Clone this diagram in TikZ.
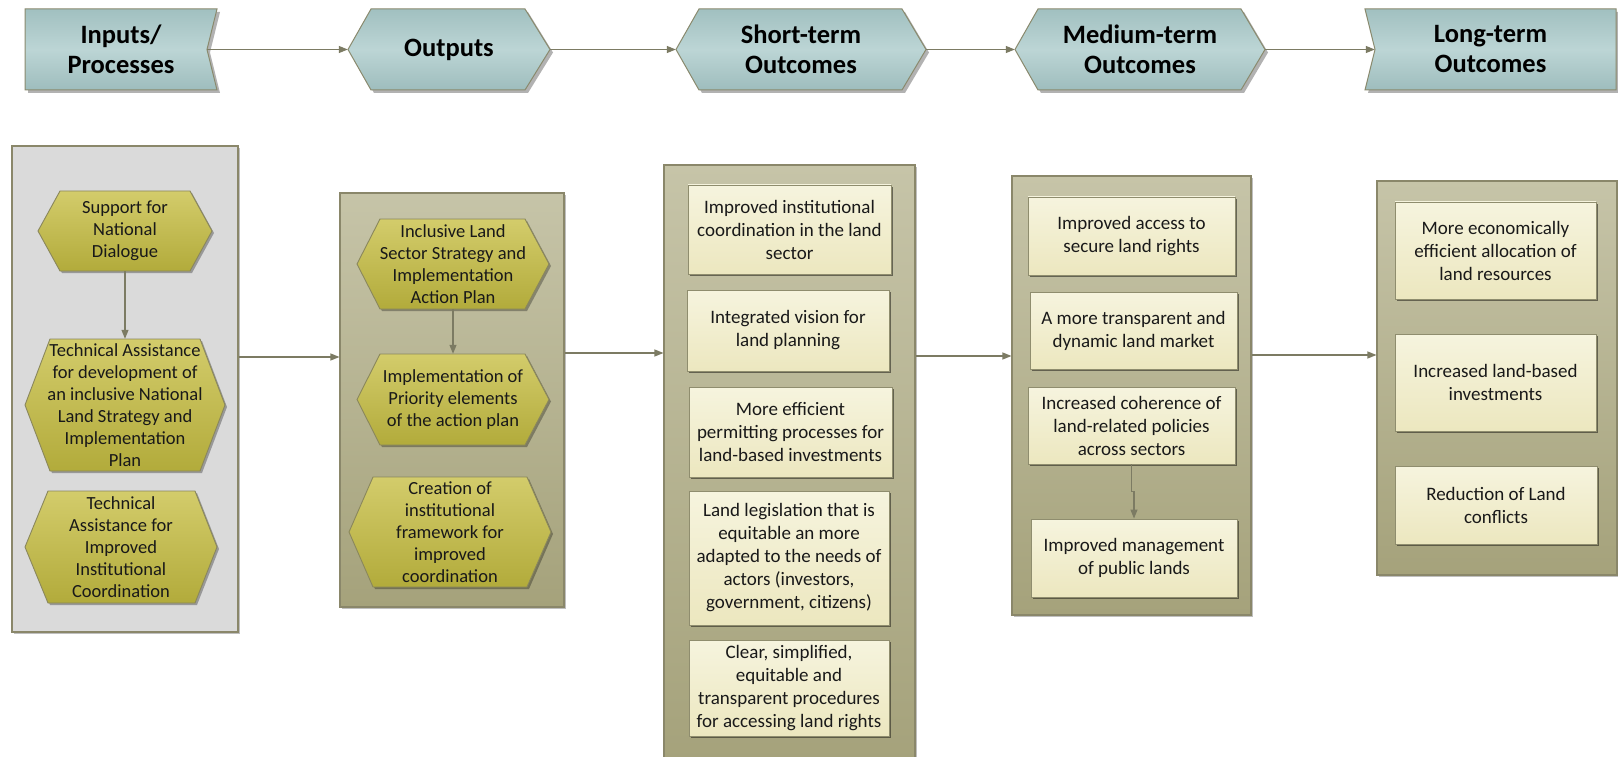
\documentclass[tikz,border=0pt]{standalone}
\usepackage{fontspec}
\setmainfont{Carlito}
\usetikzlibrary{arrows.meta,shadows,calc}
\definecolor{hdrTop}{HTML}{A1C0C0}
\definecolor{hdrMid}{HTML}{BCD5D5}
\definecolor{hdrBot}{HTML}{9EBDBD}
\definecolor{hdrB}{HTML}{8A8A6E}
\definecolor{panB}{HTML}{8A876A}
\definecolor{panOne}{HTML}{DADADA}
\definecolor{panTop}{HTML}{C6C4A8}
\definecolor{panBot}{HTML}{A5A27B}
\definecolor{hexTop}{HTML}{D3CC6B}
\definecolor{hexBot}{HTML}{B2AB3B}
\definecolor{hexB}{HTML}{8A875C}
\definecolor{boxTop}{HTML}{F6F4DE}
\definecolor{boxBot}{HTML}{ECE7BF}
\definecolor{boxB}{HTML}{8F8D6E}
\definecolor{connC}{HTML}{7C7B63}
\tikzset{
  conn/.style={draw=connC, line width=1.2pt, -{Triangle[length=9pt,width=7pt]}},
  panelbox/.style={draw=panB, line width=1.1pt, inner sep=0pt,
    drop shadow={shadow xshift=2pt,shadow yshift=-2pt,fill=black,opacity=0.25}},
  panelA/.style={panelbox, fill=panOne},
  panelB/.style={panelbox, top color=panTop, bottom color=panBot},
  hdr/.style={draw=hdrB, line width=1pt, top color=hdrTop, bottom color=hdrBot, middle color=hdrMid,
    drop shadow={shadow xshift=3pt,shadow yshift=-3pt,fill=black,opacity=0.3}},
  hdr text/.style={draw=none, inner sep=0pt, align=center, text=black,
    font=\fontsize{26.5}{30}\selectfont\bfseries},
  hexs/.style={draw=hexB, line width=0.9pt, top color=hexTop, bottom color=hexBot,
    drop shadow={shadow xshift=2pt,shadow yshift=-2pt,fill=black,opacity=0.3}},
  hexs text/.style={draw=none, inner sep=0pt, align=center, text=black!90,
    font=\fontsize{18.5}{22}\selectfont},
  tb/.style={draw=boxB, line width=0.9pt, top color=boxTop, bottom color=boxBot, inner sep=0pt,
    align=center, text=black!90, font=\fontsize{19}{23}\selectfont,
    drop shadow={shadow xshift=2pt,shadow yshift=-2pt,fill=black!70!boxB,opacity=0.6}}
}
% style, name, xl, xtl, xtr, xr, yt, yb, text
\newcommand\hexshape[9]{%
  \path[#1] (#3,{(#7+#8)/2}) -- (#4,#7) -- (#5,#7) -- (#6,{(#7+#8)/2}) -- (#5,#8) -- (#4,#8) -- cycle;
  \node[#1 text, minimum width={(#6-#3)*1pt}, minimum height={(#8-#7)*1pt}] (#2) at ({(#3+#6)/2},{(#7+#8)/2}) {#9};}
% style, name, x1, x2, y1, y2
\newcommand\panelnode[6]{%
  \node[#1, minimum width={(#4-#3)*1pt}, minimum height={(#6-#5)*1pt}] (#2) at ({(#3+#4)/2},{(#5+#6)/2}) {};}
% name, x1, x2, y1, y2, text
\newcommand\tbox[6]{%
  \node[tb, minimum width={(#3-#2)*1pt}, minimum height={(#5-#4)*1pt}] (#1) at ({(#2+#3)/2},{(#4+#5)/2}) {#6};}
\begin{document}
\begin{tikzpicture}[x=1pt,y=-1pt]
\useasboundingbox[fill=white] (0,0) rectangle (1618,757);

% ---------- headers ----------
\path[hdr] (25,9) -- (217,9) -- (207,49.5) -- (217,90) -- (25,90) -- cycle;
\node[hdr text, minimum width=192pt, minimum height=81pt] (inp) at (121,49.5) {Inputs/\\Processes};
\hexshape{hdr}{out}{348}{371}{525}{550}{9}{90}{Outputs}
\hexshape{hdr}{st}{676}{699}{902}{926}{9}{90}{Short-term\\Outcomes}
\hexshape{hdr}{mt}{1015}{1038}{1241}{1265}{9}{90}{Medium-term\\Outcomes}
\path[hdr] (1365,9) -- (1616,9) -- (1616,90) -- (1365,90) -- (1375,49.5) -- cycle;
\node[hdr text, minimum width=251pt, minimum height=81pt] (lt) at (1490.5,49.5) {Long-term\\Outcomes};

\draw[conn] ([xshift=-10pt]inp.east) -- (out.west);
\draw[conn] (out.east) -- (st.west);
\draw[conn] (st.east) -- (mt.west);
\draw[conn] (mt.east) -- ([xshift=10pt]lt.west);

% ---------- panels ----------
\panelnode{panelA}{pan1}{12}{238}{146}{632}
\panelnode{panelB}{pan2}{340}{564}{193}{607}
\panelnode{panelB}{pan3}{664}{915}{165}{762}
\panelnode{panelB}{pan4}{1012}{1251}{176}{615}
\panelnode{panelB}{pan5}{1377}{1617}{181}{575}

% ---------- inputs ----------
\hexshape{hexs}{pa}{38}{60}{190}{212}{191}{271}{Support for\\National\\Dialogue}
\hexshape{hexs}{pb}{25}{50}{200}{225}{339}{471}{Technical Assistance\\for development of\\an inclusive National\\Land Strategy and\\Implementation\\Plan}
\hexshape{hexs}{pc}{25}{48}{195}{217}{491}{603}{Technical\\Assistance for\\Improved\\Institutional\\Coordination}
\draw[conn] (pa.south) -- (pb.north);

% ---------- outputs ----------
\hexshape{hexs}{qa}{357}{380}{525}{549}{219}{309}{Inclusive Land\\Sector Strategy and\\Implementation\\Action Plan}
\hexshape{hexs}{qb}{357}{380}{525}{549}{354}{445}{Implementation of\\Priority elements\\of the action plan}
\hexshape{hexs}{qc}{349}{373}{527}{551}{477}{587}{Creation of\\institutional\\framework for\\improved\\coordination}
\draw[conn] (qa.south) -- (qb.north);

% ---------- short-term ----------
\tbox{sa}{688}{891}{185}{274}{Improved institutional\\coordination in the land\\sector}
\tbox{sb}{687}{889}{290}{371}{Integrated vision for\\land planning}
\tbox{sc}{689}{892}{387}{477}{More efficient\\permitting processes for\\land-based investments}
\tbox{sd}{689}{889}{491}{625}{Land legislation that is\\equitable an more\\adapted to the needs of\\actors (investors,\\government, citizens)}
\tbox{se}{689}{889}{640}{736}{Clear, simplified,\\equitable and\\transparent procedures\\for accessing land rights}

% ---------- medium-term ----------
\tbox{ma}{1028}{1235}{197}{275}{Improved access to\\secure land rights}
\tbox{mb}{1030}{1237}{292}{369}{A more transparent and\\dynamic land market}
\tbox{mc}{1028}{1235}{387}{464}{Increased coherence of\\land-related policies\\across sectors}
\tbox{md}{1031}{1237}{519}{597}{Improved management\\of public lands}
\draw[conn] (mc.south) -- ++(0,27) -| (md.north);

% ---------- long-term ----------
\tbox{la}{1395}{1596}{202}{299}{More economically\\efficient allocation of\\land resources}
\tbox{lb}{1395}{1596}{334}{431}{Increased land-based\\investments}
\tbox{lc}{1395}{1597}{466}{544}{Reduction of Land\\conflicts}

% ---------- panel connectors ----------
\coordinate (ya) at (0,357);
\coordinate (yb) at (0,353);
\coordinate (yc) at (0,356);
\coordinate (yd) at (0,355);
\draw[conn] (pan1.east |- ya) -- (pan2.west |- ya);
\draw[conn] (pan2.east |- yb) -- (pan3.west |- yb);
\draw[conn] (pan3.east |- yc) -- (pan4.west |- yc);
\draw[conn] (pan4.east |- yd) -- (pan5.west |- yd);
\end{tikzpicture}
\end{document}
